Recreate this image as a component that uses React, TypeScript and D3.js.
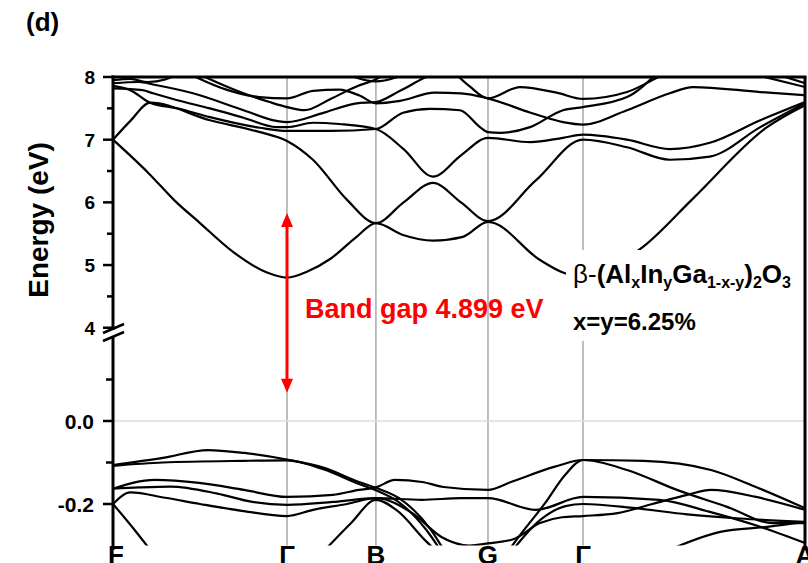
import React from 'react';
import * as d3 from 'd3';

type Pt = [number, number];

// high-symmetry points along the k path
const kPoints = [0, 1, 1.511, 2.155, 2.701, 3.977];
const kLabels = ['F', 'Γ', 'B', 'G', 'Γ', 'A'];

// y ticks (upper panel: conduction bands, lower panel: valence bands)
const upperTicks = [4, 5, 6, 7, 8];
const upperMinor = [4.5, 5.5, 6.5, 7.5];
const lowerTicks = [0, -0.2];
const lowerTickLabels = ['0.0', '-0.2'];
const lowerMinor = [0.1, -0.1];

// band gap arrow ends (upper panel value, lower panel value)
const gapArrowTop = 5.83;
const gapArrowBottom = 0.068;

// conduction bands [k, E(eV)]
const conduction: Pt[][] = [
  [[0, 7.0], [0.21, 6.45], [0.35, 6.04], [0.5, 5.67], [0.69, 5.21], [0.885, 4.88], [1, 4.8], [1.12, 4.9], [1.25, 5.1], [1.4, 5.45], [1.511, 5.67], [1.667, 5.48], [1.839, 5.39], [2.011, 5.45], [2.155, 5.69], [2.454, 5.08], [2.586, 4.88], [2.701, 4.8], [2.856, 4.96], [3.046, 5.29], [3.333, 6.06], [3.759, 7.2], [3.977, 7.55]],
  [[0, 7.0], [0.1, 7.3], [0.213, 7.59], [0.557, 7.31], [0.845, 7.12], [1, 6.98], [1.149, 6.68], [1.345, 6.04], [1.511, 5.67], [1.67, 6.0], [1.839, 6.31], [2.0, 6.0], [2.155, 5.7], [2.43, 6.35], [2.701, 7.0], [2.954, 6.88], [3.2, 6.68], [3.43, 6.73], [3.72, 7.2], [3.977, 7.58]],
  [[0, 7.86], [0.1, 7.79], [0.213, 7.59], [0.37, 7.5], [0.557, 7.36], [0.845, 7.19], [1, 7.14], [1.25, 7.14], [1.511, 7.17], [1.667, 7.43], [1.82, 7.49], [1.994, 7.47], [2.109, 7.2], [2.155, 7.12], [2.224, 7.11], [2.397, 7.2], [2.586, 7.47], [2.701, 7.52], [2.954, 7.68], [3.14, 8.1]],
  [[0, 7.82], [0.17, 7.79], [0.23, 7.74], [0.37, 7.63], [0.557, 7.5], [0.75, 7.35], [0.94, 7.2], [1, 7.2], [1.15, 7.27], [1.3, 7.25], [1.511, 7.17], [1.67, 6.85], [1.839, 6.41], [2.0, 6.75], [2.155, 7.03], [2.4, 6.96], [2.586, 7.03], [2.701, 7.08], [2.954, 7.0], [3.2, 6.85], [3.43, 6.95], [3.72, 7.31], [3.977, 7.6]],
  [[0, 7.9], [0.15, 7.92], [0.23, 7.88], [0.46, 7.74], [0.75, 7.47], [0.94, 7.3], [1, 7.28], [1.2, 7.42], [1.4, 7.58], [1.511, 7.6], [1.65, 7.78], [1.8, 8.0], [1.9, 8.1]],
  [[1.95, 8.1], [2.05, 7.85], [2.155, 7.66], [2.339, 7.84], [2.55, 7.75], [2.701, 7.65], [2.954, 7.76], [3.1, 7.95], [3.2, 8.1]],
  [[0.4, 8.1], [0.66, 7.79], [0.84, 7.68], [1, 7.66], [1.15, 7.78], [1.3, 7.8], [1.42, 7.7], [1.511, 7.58], [1.65, 7.62], [1.85, 7.75], [2.0, 7.74], [2.155, 7.66], [2.4, 7.43], [2.586, 7.28], [2.701, 7.24], [2.954, 7.47], [3.2, 7.74], [3.333, 7.84], [3.72, 7.76], [3.977, 7.71]],
  [[0.45, 8.1], [0.75, 7.74], [0.9, 7.6], [1, 7.52], [1.1, 7.47], [1.25, 7.65], [1.4, 7.85], [1.5, 7.95], [1.6, 8.1]],
  [[1.3, 8.1], [1.511, 7.93], [1.72, 8.1]],
  [[0, 7.95], [0.1, 7.97], [0.2, 7.92], [0.3, 7.96], [0.4, 8.1]],
  [[3.6, 8.1], [3.977, 7.84]],
  [[3.75, 8.1], [3.977, 7.9]],
];

// valence bands [k, E(eV)]
const valence: Pt[][] = [
  [[0, -0.106], [0.287, -0.089], [0.546, -0.07], [0.753, -0.077], [1, -0.093], [1.213, -0.113], [1.414, -0.147], [1.511, -0.161], [1.644, -0.186], [1.828, -0.263], [1.9, -0.31]],
  [[0, -0.108], [0.287, -0.1], [0.753, -0.096], [1, -0.095], [1.213, -0.117], [1.414, -0.152], [1.511, -0.167], [1.644, -0.196], [1.8, -0.262], [1.88, -0.31]],
  [[0, -0.163], [0.24, -0.142], [0.494, -0.149], [0.753, -0.166], [1, -0.183], [1.264, -0.178], [1.414, -0.166], [1.511, -0.16], [1.62, -0.142], [1.776, -0.147], [1.9, -0.159], [2.155, -0.166], [2.287, -0.147], [2.54, -0.11], [2.701, -0.094], [3.05, -0.096], [3.437, -0.118], [3.695, -0.159], [3.977, -0.21]],
  [[0, -0.163], [0.15, -0.16], [0.33, -0.158], [0.6, -0.175], [0.8, -0.195], [1, -0.202], [1.264, -0.195], [1.511, -0.186], [1.776, -0.19], [2.0, -0.186], [2.155, -0.186], [2.43, -0.214], [2.701, -0.183], [3.14, -0.19], [3.43, -0.219], [3.72, -0.255], [3.977, -0.294]],
  [[0, -0.2], [0.1, -0.172], [0.3, -0.185], [0.5, -0.2], [0.75, -0.217], [1, -0.229], [1.15, -0.214], [1.345, -0.2], [1.511, -0.186], [1.72, -0.222], [1.89, -0.28], [2.05, -0.3], [2.155, -0.295], [2.3, -0.285], [2.454, -0.246], [2.58, -0.232], [2.701, -0.229], [2.9, -0.222], [3.1, -0.2], [3.3, -0.178], [3.437, -0.166], [3.695, -0.183], [3.977, -0.214]],
  [[2.26, -0.32], [2.339, -0.275], [2.483, -0.198], [2.598, -0.13], [2.701, -0.094], [2.954, -0.118], [3.241, -0.166], [3.529, -0.207], [3.793, -0.246], [3.977, -0.246]],
  [[2.28, -0.32], [2.454, -0.239], [2.6, -0.205], [2.701, -0.2], [3.0, -0.21], [3.3, -0.225], [3.6, -0.235], [3.977, -0.243]],
  [[3.2, -0.31], [3.49, -0.267], [3.76, -0.255], [3.977, -0.243]],
  [[1.22, -0.31], [1.37, -0.245], [1.511, -0.19], [1.63, -0.215], [1.8, -0.29], [1.85, -0.31]],
  [[0, -0.2], [0.1, -0.25], [0.213, -0.31]],
];

const W = 808;
const H = 563;
const left = 113;
const right = 805;
const top = 77;
const bottom = 545.5;
const breakTop = 334;
const breakBottom = 338;

const App: React.FC = () => {
  const x = d3.scaleLinear().domain([0, 3.977]).range([left, right]);
  const yU = d3.scaleLinear().domain([3.9, 8]).range([breakTop, top]);
  const yL = d3.scaleLinear().domain([-0.3, 0.2]).range([bottom, breakBottom]);

  const lineU = d3.line<Pt>().x(d => x(d[0])).y(d => yU(d[1])).curve(d3.curveMonotoneX);
  const lineL = d3.line<Pt>().x(d => x(d[0])).y(d => yL(d[1])).curve(d3.curveMonotoneX);

  const arrowX = x(kPoints[1]);
  const aTop = yU(gapArrowTop);
  const aBot = yL(gapArrowBottom);

  return (
    <svg width={W} height={H} style={{ position: 'absolute', left: 0, top: 0, background: '#fff' }}
      fontFamily="Arial, 'Liberation Sans', sans-serif">
      <defs>
        <clipPath id="clipU"><rect x={left} y={top} width={right - left} height={breakTop - top} /></clipPath>
        <clipPath id="clipL"><rect x={left} y={breakBottom} width={right - left} height={bottom - breakBottom} /></clipPath>
      </defs>

      {kPoints.slice(1, -1).map((k, i) => (
        <line key={i} x1={x(k)} x2={x(k)} y1={top} y2={bottom} stroke="#a8a8a8" strokeWidth={1.5} />
      ))}
      <line x1={left} x2={right} y1={yL(0)} y2={yL(0)} stroke="#dcdcdc" strokeWidth={1.5} />

      <g clipPath="url(#clipU)">
        {conduction.map((b, i) => (
          <path key={i} d={lineU(b) || ''} fill="none" stroke="#000" strokeWidth={2.2} />
        ))}
      </g>
      <g clipPath="url(#clipL)">
        {valence.map((b, i) => (
          <path key={i} d={lineL(b) || ''} fill="none" stroke="#000" strokeWidth={2.2} />
        ))}
      </g>

      <rect x={566} y={250} width={234} height={91} fill="#fff" />

      {/* frame */}
      <line x1={left - 1.5} x2={right + 1.5} y1={top} y2={top} stroke="#000" strokeWidth={3} />
      <line x1={right} x2={right} y1={top} y2={550} stroke="#000" strokeWidth={3} />
      <line x1={left} x2={left} y1={top - 1.5} y2={330} stroke="#000" strokeWidth={3} />
      <line x1={left} x2={left} y1={337} y2={550} stroke="#000" strokeWidth={3} />
      <line x1={103} x2={124} y1={333} y2={324} stroke="#000" strokeWidth={2.5} />
      <line x1={103} x2={124} y1={341} y2={332} stroke="#000" strokeWidth={2.5} />

      {upperTicks.map(t => (
        <g key={t}>
          <line x1={left - 10} x2={left} y1={yU(t)} y2={yU(t)} stroke="#000" strokeWidth={2.5} />
          <text x={95} y={yU(t)} dy="0.36em" textAnchor="end" fontSize={19} fontWeight="bold">{t}</text>
        </g>
      ))}
      {upperMinor.map(t => (
        <line key={t} x1={left - 6} x2={left} y1={yU(t)} y2={yU(t)} stroke="#000" strokeWidth={2.5} />
      ))}
      {lowerTicks.map((t, i) => (
        <g key={t}>
          <line x1={left - 10} x2={left} y1={yL(t)} y2={yL(t)} stroke="#000" strokeWidth={2.5} />
          <text x={94} y={yL(t)} dy="0.36em" textAnchor="end" fontSize={21} fontWeight="bold">{lowerTickLabels[i]}</text>
        </g>
      ))}
      {lowerMinor.map(t => (
        <line key={t} x1={left - 7} x2={left} y1={yL(t)} y2={yL(t)} stroke="#000" strokeWidth={2.5} />
      ))}

      {kPoints.map((k, i) => (
        <text key={i} x={x(k) + (i === 0 ? 3 : 0)} y={564} textAnchor="middle" fontSize={26} fontWeight="bold">{kLabels[i]}</text>
      ))}

      <text x={26} y={31} fontSize={26} fontWeight="bold">(d)</text>
      <text transform="translate(48,220) rotate(-90)" textAnchor="middle" fontSize={28} fontWeight="bold">Energy (eV)</text>

      {/* band gap arrow */}
      <line x1={arrowX} x2={arrowX} y1={aTop + 12} y2={aBot - 12} stroke="#ff0000" strokeWidth={3} />
      <path d={`M${arrowX},${aTop} L${arrowX - 6},${aTop + 14} L${arrowX + 6},${aTop + 14} Z`} fill="#ff0000" />
      <path d={`M${arrowX},${aBot} L${arrowX - 6},${aBot - 14} L${arrowX + 6},${aBot - 14} Z`} fill="#ff0000" />
      <text x={305} y={318} fontSize={27} fontWeight="bold" fill="#ff0000">Band gap 4.899 eV</text>

      <text x={573} y={283} fontSize={26} fontWeight="bold">
        <tspan fontWeight="normal">β-</tspan>(Al
        <tspan fontSize={16} dy={5}>x</tspan>
        <tspan dy={-5}>In</tspan>
        <tspan fontSize={16} dy={5}>y</tspan>
        <tspan dy={-5}>Ga</tspan>
        <tspan fontSize={16} dy={5}>1-x-y</tspan>
        <tspan dy={-5}>)</tspan>
        <tspan fontSize={16} dy={5}>2</tspan>
        <tspan dy={-5}>O</tspan>
        <tspan fontSize={16} dy={5}>3</tspan>
      </text>
      <text x={573} y={330} fontSize={24} fontWeight="bold">x=y=6.25%</text>
    </svg>
  );
};

export default App;
